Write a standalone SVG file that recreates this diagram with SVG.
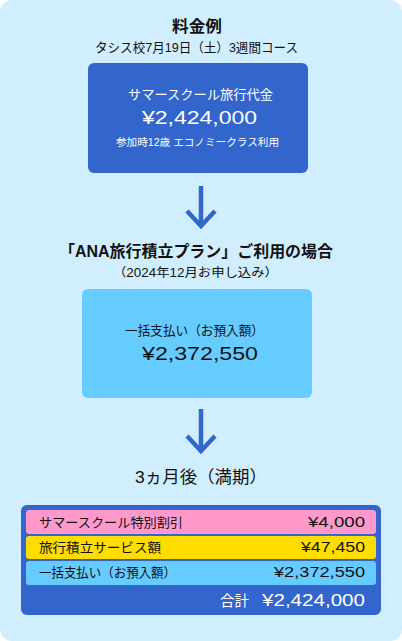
<svg xmlns="http://www.w3.org/2000/svg" width="402" height="641" viewBox="0 0 402 641">
<style>
text{font-family:"Liberation Sans","Noto Sans CJK JP",sans-serif;fill:#111}
.r{text-anchor:end}
.w{fill:#fff}
.b{font-weight:bold}
.arr{stroke:#3366CC;stroke-width:4.5;fill:none}
</style>
<rect x="0" y="0" width="402" height="641" fill="#fff"/>
<rect x="0" y="0" width="402" height="641" rx="12" fill="#D0EEFD"/>
<g id="title">
<text class="b" x="172" y="32" font-size="16" textLength="50" lengthAdjust="spacingAndGlyphs">料金例</text>
<text x="95" y="52" font-size="13" textLength="203" lengthAdjust="spacingAndGlyphs">タシス校7月19日（土）3週間コース</text>
</g>
<g id="price">
<rect x="88" y="63" width="220" height="110" rx="6" fill="#3366CC"/>
<text class="w" x="128" y="99" font-size="13" textLength="145" lengthAdjust="spacingAndGlyphs">サマースクール旅行代金</text>
<text class="w" x="142" y="124" font-size="19" textLength="115" lengthAdjust="spacingAndGlyphs">¥2,424,000</text>
<text class="w" x="116" y="146" font-size="10" textLength="163" lengthAdjust="spacingAndGlyphs">参加時12歳 エコノミークラス利用</text>
</g>
<g id="plan">
<text class="b" x="59" y="257" font-size="16" textLength="274" lengthAdjust="spacingAndGlyphs">「ANA旅行積立プラン」ご利用の場合</text>
<text x="113" y="277" font-size="12" textLength="165" lengthAdjust="spacingAndGlyphs">（2024年12月お申し込み）</text>
</g>
<g id="deposit">
<rect x="82" y="289" width="230" height="109" rx="6" fill="#66CCFF"/>
<text x="125" y="335" font-size="13" textLength="139" lengthAdjust="spacingAndGlyphs">一括支払い（お預入額）</text>
<text x="142" y="360" font-size="19" textLength="116" lengthAdjust="spacingAndGlyphs">¥2,372,550</text>
</g>
<g id="maturity">
<text x="135" y="483" font-size="17" textLength="132" lengthAdjust="spacingAndGlyphs">3ヵ月後（満期）</text>
</g>
<g id="summary">
<rect x="21" y="505" width="360" height="110" rx="6" fill="#3366CC"/>
<rect x="26" y="510" width="350" height="24" rx="3" fill="#FF99CC"/>
<rect x="26" y="536" width="350" height="23" rx="3" fill="#FFDD00"/>
<rect x="26" y="561" width="350" height="24" rx="3" fill="#66CCFF"/>
<text x="39" y="527" font-size="13" textLength="144" lengthAdjust="spacingAndGlyphs">サマースクール特別割引</text>
<text x="308" y="527" font-size="14" textLength="57" lengthAdjust="spacingAndGlyphs">¥4,000</text>
<text x="39" y="552" font-size="13" textLength="122" lengthAdjust="spacingAndGlyphs">旅行積立サービス額</text>
<text x="301" y="552" font-size="14" textLength="64" lengthAdjust="spacingAndGlyphs">¥47,450</text>
<text x="39" y="577" font-size="13" textLength="137" lengthAdjust="spacingAndGlyphs">一括支払い（お預入額）</text>
<text x="274" y="577" font-size="14" textLength="91" lengthAdjust="spacingAndGlyphs">¥2,372,550</text>
<text class="w" x="220" y="606" font-size="15" textLength="29" lengthAdjust="spacingAndGlyphs">合計</text>
<text class="w" x="262" y="606" font-size="16" textLength="103" lengthAdjust="spacingAndGlyphs">¥2,424,000</text>
</g>
<g id="connectors">
<line class="arr" x1="201" y1="186" x2="201" y2="226"/>
<polyline class="arr" points="187,211 201,226 215,211"/>
<line class="arr" x1="201" y1="409" x2="201" y2="451"/>
<polyline class="arr" points="187,436 201,451 215,436"/>
</g>
</svg>
